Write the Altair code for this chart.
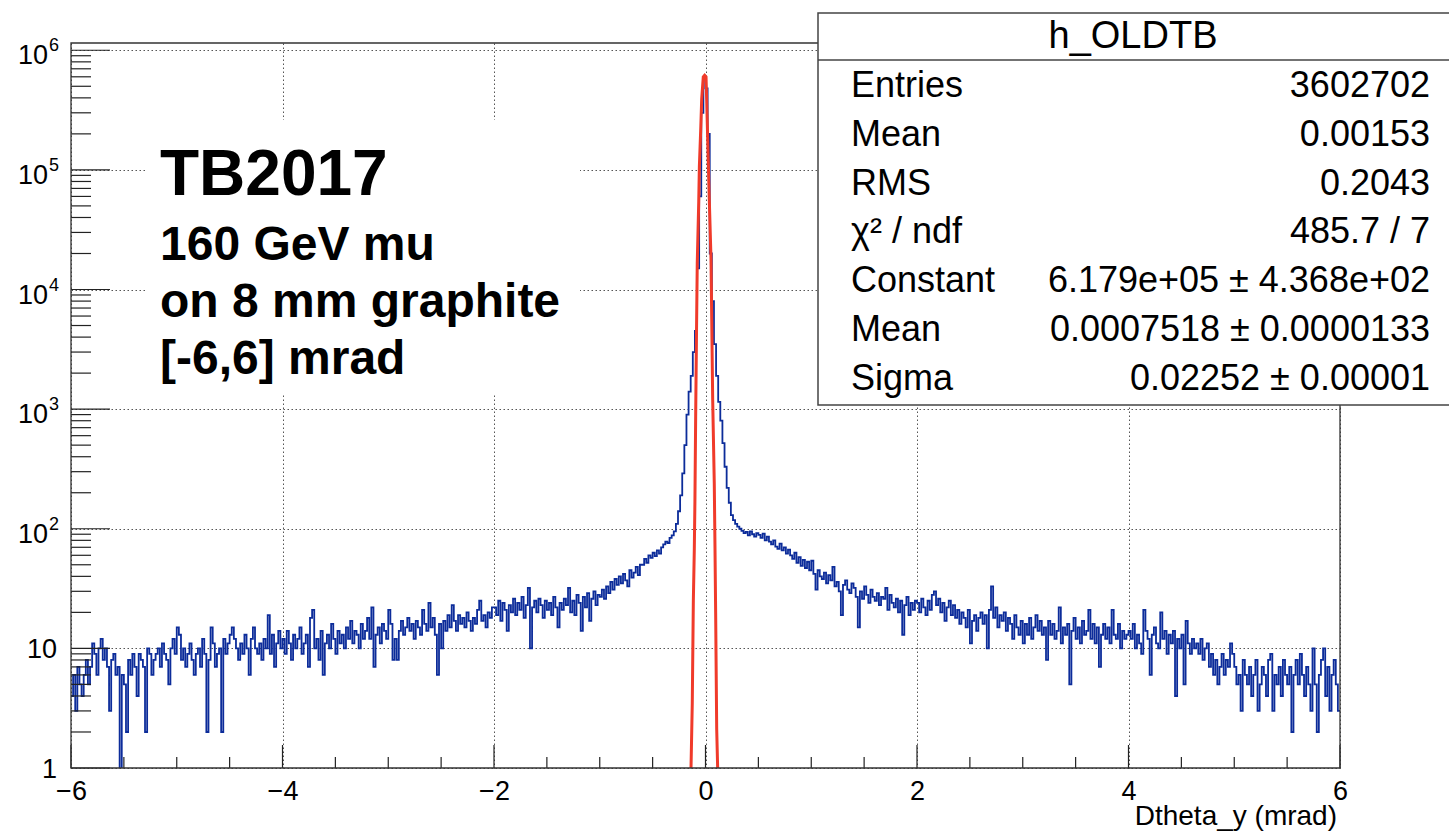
import altair as alt
import pandas as pd

# ---------------- data ----------------
X_MIN, X_MAX = -6.0, 6.0
BIN_WIDTH = 0.02

COUNTS_M6 = [4, 6, 3, 7, 5, 4, 6, 8, 5, 7, 11, 9, 6, 10, 12, 8, 10, 7, 3, 8,
             9, 6, 7, 0, 6, 5, 2, 8, 6, 9, 7, 4, 9, 8, 7, 2, 10, 9, 6, 8,
             9, 10, 7, 11, 9, 8, 5, 10, 12, 9]
COUNTS_M5 = [15, 13, 8, 10, 7, 9, 11, 8, 6, 9, 10, 7, 12, 9, 2, 8, 15, 11, 7, 9,
             10, 2, 12, 9, 11, 13, 15, 12, 10, 8, 11, 9, 13, 10, 6, 12, 15, 10, 9, 11,
             8, 12, 10, 19, 9, 13, 7, 11, 14, 10]
COUNTS_M4 = [12, 9, 14, 11, 8, 13, 10, 12, 15, 9, 11, 13, 7, 18, 21, 10, 12, 8, 14, 6,
             11, 13, 10, 16, 12, 9, 14, 11, 13, 10, 15, 12, 17, 11, 14, 13, 10, 16, 12, 14,
             18, 12, 22, 7, 13, 15, 11, 16, 14, 12]
COUNTS_M3 = [21, 16, 8, 12, 8, 14, 17, 13, 15, 18, 14, 16, 12, 17, 15, 13, 21, 16, 14, 24,
             15, 18, 13, 6, 16, 10, 17, 14, 19, 15, 23, 17, 14, 19, 16, 18, 15, 20, 17, 14,
             18, 16, 21, 25, 17, 19, 15, 20, 18, 22]
COUNTS_M2 = [22, 19, 25, 17, 24, 21, 14, 23, 20, 26, 19, 24, 21, 27, 18, 23, 32, 10, 22, 25,
             20, 26, 23, 18, 25, 21, 24, 19, 27, 22, 15, 24, 21, 26, 23, 32, 20, 25, 19, 28,
             24, 14, 27, 22, 29, 17, 26, 30, 23, 28]
COUNTS_M1 = [27, 31, 26, 33, 29, 36, 31, 38, 34, 40, 35, 42, 37, 33, 45, 39, 43, 48, 41, 50,
             50, 56, 52, 60, 57, 63, 59, 66, 62, 70, 74, 78, 76, 84, 88, 95, 110, 140, 190, 290,
             500, 900, 1400, 1900, 3000, 4500, 15000, 60000, 300000, 590000]
COUNTS_P0 = [480000, 200000, 20000, 8000, 3500, 1900, 1150, 800, 520, 330,
             220, 165, 130, 118, 110, 104, 100, 96, 92, 94, 88, 95, 90, 86, 92, 89, 84, 91, 80, 86,
             78, 74, 80, 71, 68, 75, 66, 70, 62, 67, 60, 56, 63, 52, 58, 49, 55, 47, 53, 45]
COUNTS_P1 = [54, 42, 31, 45, 40, 38, 43, 35, 41, 37, 48, 33, 36, 30, 19, 34, 37, 31, 29, 35,
             32, 27, 15, 30, 26, 33, 28, 24, 31, 27, 25, 29, 23, 27, 26, 32, 21, 28, 24, 22,
             26, 20, 25, 13, 23, 27, 19, 24, 21, 25]
COUNTS_P2 = [24, 20, 26, 22, 19, 25, 21, 28, 30, 23, 26, 20, 24, 17, 22, 25, 19, 23, 18, 21,
             16, 20, 18, 15, 21, 11, 17, 19, 14, 18, 20, 16, 19, 10, 21, 33, 18, 22, 15, 19,
             17, 20, 14, 18, 16, 12, 19, 15, 13, 17]
COUNTS_P3 = [11, 16, 13, 18, 12, 15, 19, 14, 17, 13, 15, 8, 17, 13, 16, 12, 14, 22, 11, 15,
             13, 16, 5, 14, 18, 12, 15, 11, 17, 13, 14, 21, 12, 16, 11, 15, 7, 13, 16, 12,
             15, 11, 21, 13, 12, 16, 10, 14, 12, 13]
COUNTS_P4 = [14, 12, 16, 10, 13, 11, 9, 21, 14, 12, 6, 13, 15, 11, 10, 20, 12, 14, 9, 13,
             11, 14, 4, 12, 10, 13, 5, 17, 11, 9, 12, 10, 11, 9, 12, 8, 10, 11, 7, 9,
             6, 8, 5, 7, 9, 6, 8, 7, 11, 9]
COUNTS_P5 = [7, 5, 6, 3, 8, 6, 5, 7, 4, 6, 8, 3, 5, 7, 6, 4, 8, 9, 3, 6,
             5, 7, 4, 8, 6, 5, 7, 2, 6, 8, 5, 9, 6, 4, 7, 5, 3, 10, 5, 2,
             6, 8, 10, 4, 7, 3, 6, 8, 5, 3]

FIT_X = [-0.137, -0.125, -0.115, -0.106, -0.100, -0.093, -0.085, -0.078, -0.064, -0.058,
         -0.045, -0.036, -0.021, -0.008, 0.005, 0.011, 0.026, 0.036, 0.052, 0.059,
         0.068, 0.083, 0.090, 0.096, 0.106, 0.115]
FIT_Y = [1.0, 3.5, 25, 66, 170, 870, 4400, 16600, 54000, 107000,
         220000, 390000, 600000, 618000, 600000, 390000, 120000, 56000, 18000, 5600,
         1200, 240, 66, 20, 2.1, 1.0]

HIST_NAME = "h_OLDTB"
STAT_NAMES = ["Entries", "Mean", "RMS", "\u03c7\u00b2 / ndf", "Constant", "Mean", "Sigma"]
STAT_VALUES = ["3602702", "0.00153", "0.2043", "485.7 / 7",
               "6.179e+05 \u00b1 4.368e+02", "0.0007518 \u00b1 0.0000133", "0.02252 \u00b1 0.00001"]
LABEL_TITLE = "TB2017"
LABEL_LINES = ["160 GeV mu", "on 8 mm graphite", "[-6,6] mrad"]
X_TITLE = "Dtheta_y (mrad)"

X_MAJOR = [-6, -4, -2, 0, 2, 4, 6]
X_MINOR = [-5.5, -5, -4.5, -3.5, -3, -2.5, -1.5, -1, -0.5, 0.5, 1, 1.5, 2.5, 3, 3.5, 4.5, 5, 5.5]
Y_MAJOR = [1, 10, 100, 1000, 10000, 100000, 1000000]
Y_BASE = ["1", "10", "10", "10", "10", "10", "10"]
Y_EXP = ["", "", "2", "3", "4", "5", "6"]
Y_MINOR = [m * 10 ** k for k in range(6) for m in range(2, 10)]

# ---------------- styling ----------------
BLUE = "#0c2c9a"
RED = "#f03a2a"
FONT = "Liberation Sans"
W, H = 1269, 725

counts = (COUNTS_M6 + COUNTS_M5 + COUNTS_M4 + COUNTS_M3 + COUNTS_M2 + COUNTS_M1 +
          COUNTS_P0 + COUNTS_P1 + COUNTS_P2 + COUNTS_P3 + COUNTS_P4 + COUNTS_P5)
edges = [round(X_MIN + BIN_WIDTH * i, 4) for i in range(len(counts))]
shown = [c if c > 0 else 0.3 for c in counts]
hist_df = pd.DataFrame({"x": edges + [X_MAX], "y": shown + [shown[-1]]})
fit_df = pd.DataFrame({"x": FIT_X, "y": FIT_Y})

XS = alt.Scale(domain=[X_MIN, X_MAX], nice=False, zero=False)
YS = alt.Scale(type="log", domain=[1, 1.15e6], nice=False)

GRID = dict(grid=True, gridColor="#555555", gridDash=[1.5, 2.5], gridWidth=1, zindex=0,
            ticks=False, tickSize=0, domain=False, title="")
AX_X = alt.Axis(values=X_MAJOR, labelExpr="datum.value < 0 ? '\u2212' + (-datum.value) : '' + datum.value",
                labelFont=FONT, labelFontSize=27, labelColor="#000000", labelPadding=10,
                labelFlush=False, labelOverlap=False, **GRID)
AX_Y = alt.Axis(values=Y_MAJOR, labels=False, **GRID)


def ex():
    return alt.X("x:Q", scale=XS, axis=AX_X)


def ey():
    return alt.Y("y:Q", scale=YS, axis=AX_Y)


one = pd.DataFrame({"k": [0]})
layers = []

# white background of the label pave
layers.append(alt.Chart(one).mark_rect(fill="white").encode(
    x=alt.value(76), x2=alt.value(509), y=alt.value(77), y2=alt.value(352)))

# histogram
layers.append(alt.Chart(hist_df).mark_line(interpolate="step-after", color=BLUE,
                                           strokeWidth=1.8, clip=True).encode(x=ex(), y=ey()))
# gaussian fit
layers.append(alt.Chart(fit_df).mark_line(color=RED, strokeWidth=3, clip=True).encode(x=ex(), y=ey()))

# inside ticks
layers.append(alt.Chart(pd.DataFrame({"x": X_MAJOR})).mark_rule(color="#222222", strokeWidth=1.2).encode(
    x=ex(), y=alt.value(H), y2=alt.value(H - 23)))
layers.append(alt.Chart(pd.DataFrame({"x": X_MINOR})).mark_rule(color="#222222", strokeWidth=1.2).encode(
    x=ex(), y=alt.value(H), y2=alt.value(H - 11)))
layers.append(alt.Chart(pd.DataFrame({"y": Y_MAJOR})).mark_rule(color="#222222", strokeWidth=1.2).encode(
    y=ey(), x=alt.value(0), x2=alt.value(39)))
layers.append(alt.Chart(pd.DataFrame({"y": Y_MINOR})).mark_rule(color="#222222", strokeWidth=1.2).encode(
    y=ey(), x=alt.value(0), x2=alt.value(20)))

# frame
layers.append(alt.Chart(one).mark_rect(fillOpacity=0, stroke="#333333", strokeWidth=1.3).encode(
    x=alt.value(0), x2=alt.value(W), y=alt.value(0), y2=alt.value(H)))

# stats box
BOX_L, BOX_R, BOX_T, BOX_B = 747, 1382, -30, 362
layers.append(alt.Chart(one).mark_rect(fill="white", stroke="#444444", strokeWidth=1.5).encode(
    x=alt.value(BOX_L), x2=alt.value(BOX_R), y=alt.value(BOX_T), y2=alt.value(BOX_B)))
layers.append(alt.Chart(one).mark_rule(color="#444444", strokeWidth=1.5).encode(
    x=alt.value(BOX_L), x2=alt.value(BOX_R), y=alt.value(17)))
layers.append(alt.Chart(one).mark_text(font=FONT, fontSize=38, align="center", baseline="alphabetic",
                                       color="black").encode(
    x=alt.value(1062), y=alt.value(5), text=alt.value(HIST_NAME)))
for i, (nm, vl) in enumerate(zip(STAT_NAMES, STAT_VALUES)):
    yy = 54 + 48.8 * i
    layers.append(alt.Chart(one).mark_text(font=FONT, fontSize=36, align="left", baseline="alphabetic",
                                           color="black").encode(
        x=alt.value(780), y=alt.value(yy), text=alt.value(nm)))
    layers.append(alt.Chart(one).mark_text(font=FONT, fontSize=36, align="right", baseline="alphabetic",
                                           color="black").encode(
        x=alt.value(1359), y=alt.value(yy), text=alt.value(vl)))

# big labels
layers.append(alt.Chart(one).mark_text(font=FONT, fontSize=64, fontWeight="bold", align="left",
                                       baseline="alphabetic", color="black").encode(
    x=alt.value(89), y=alt.value(152), text=alt.value(LABEL_TITLE)))
for i, line in enumerate(LABEL_LINES):
    layers.append(alt.Chart(one).mark_text(font=FONT, fontSize=48, fontWeight="bold", align="left",
                                           baseline="alphabetic", color="black").encode(
        x=alt.value(89), y=alt.value(217 + 57 * i), text=alt.value(line)))

# y tick labels (10 with superscript exponents)
ylab = pd.DataFrame({"y": Y_MAJOR, "base": Y_BASE, "exp": Y_EXP})
plain = ylab[ylab["exp"] == ""]
withexp = ylab[ylab["exp"] != ""]
layers.append(alt.Chart(plain).mark_text(font=FONT, fontSize=27, align="right", baseline="alphabetic",
                                         dy=10, color="black").encode(y=ey(), x=alt.value(-14), text="base:N"))
layers.append(alt.Chart(withexp).mark_text(font=FONT, fontSize=27, align="right", baseline="alphabetic",
                                           dy=14, color="black").encode(y=ey(), x=alt.value(-23), text="base:N"))
layers.append(alt.Chart(withexp).mark_text(font=FONT, fontSize=18, align="left", baseline="alphabetic",
                                           dy=1, color="black").encode(y=ey(), x=alt.value(-22), text="exp:N"))

# x axis title
layers.append(alt.Chart(one).mark_text(font=FONT, fontSize=28, align="right", baseline="alphabetic",
                                       color="black").encode(
    x=alt.value(1266), y=alt.value(782), text=alt.value(X_TITLE)))

chart = alt.layer(*layers).properties(
    width=W, height=H,
    autosize=alt.AutoSizeParams(type="none"),
    padding={"left": 71, "top": 43, "right": 109, "bottom": 70},
    background="white",
).configure_view(strokeWidth=0)

chart.save("out.html", embed_options={"renderer": "svg", "actions": False})
